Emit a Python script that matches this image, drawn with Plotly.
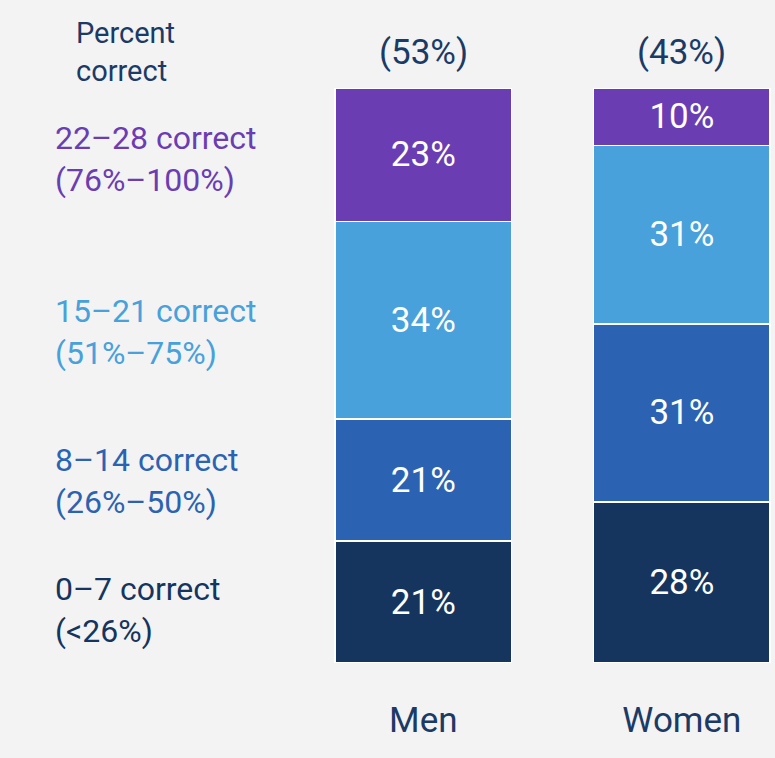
import plotly.graph_objects as go

categories = ["Men", "Women"]
shares = ["(53%)", "(43%)"]
groups = ["0–7 correct<br>(<26%)", "8–14 correct<br>(26%–50%)",
          "15–21 correct<br>(51%–75%)", "22–28 correct<br>(76%–100%)"]
men = [21, 21, 34, 23]
women = [28, 31, 31, 10]
colors = ["#15355F", "#2B63B2", "#48A1DB", "#6B3DB3"]
label_shift = [-8, -1, -12, -4]

BG = "#F3F3F3"
NAVY = "#1B3A66"
FONT = "Roboto, Inter, sans-serif"

fig = go.Figure()
for i, g in enumerate(groups):
    vals = [men[i], women[i]]
    fig.add_trace(go.Bar(
        x=categories, y=vals, name=g,
        marker=dict(color=colors[i], line=dict(color="white", width=1.5)),
        text=[f"{v}%" for v in vals], textposition="inside",
        insidetextanchor="middle",
        textfont=dict(color="white", size=35, family=FONT),
        showlegend=False, hoverinfo="skip",
    ))

L, R = 294, 775
pw = R - L

tot = sum(men)
cum = 0
ann = []
for i, g in enumerate(groups):
    mid = (cum + men[i] / 2) / tot * 100
    cum += men[i]
    ann.append(dict(x=(53 - L) / pw, xref="paper", y=mid, yref="y", yshift=label_shift[i],
                    text=g, showarrow=False, xanchor="left", yanchor="middle",
                    align="left", font=dict(color=colors[i], size=32, family=FONT)))

for c, s in zip(categories, shares):
    ann.append(dict(x=c, xref="x", y=1, yref="paper", yshift=36, text=s,
                    showarrow=False, yanchor="middle",
                    font=dict(size=35, color=NAVY, family=FONT)))

ann.append(dict(x=(74 - L) / pw, xref="paper", y=1, yref="paper", yshift=36,
                text="Percent<br>correct", showarrow=False, xanchor="left",
                yanchor="middle", align="left",
                font=dict(size=29, color=NAVY, family=FONT)))

fig.update_layout(
    width=775, height=758,
    paper_bgcolor=BG, plot_bgcolor=BG,
    barmode="stack", barnorm="percent", bargap=0.317,
    margin=dict(l=L, r=0, t=88, b=95),
    font=dict(family=FONT, color=NAVY),
    xaxis=dict(range=[-0.5, 1.36], showgrid=False, zeroline=False, showline=False,
               ticks="outside", ticklen=0, tickcolor=BG, ticklabelstandoff=26,
               tickfont=dict(size=35, color=NAVY, family=FONT)),
    yaxis=dict(range=[0, 100], visible=False),
    annotations=ann,
)

fig.write_html("out.html", config={"displayModeBar": False},
               post_script="document.body.style.margin='0';")
